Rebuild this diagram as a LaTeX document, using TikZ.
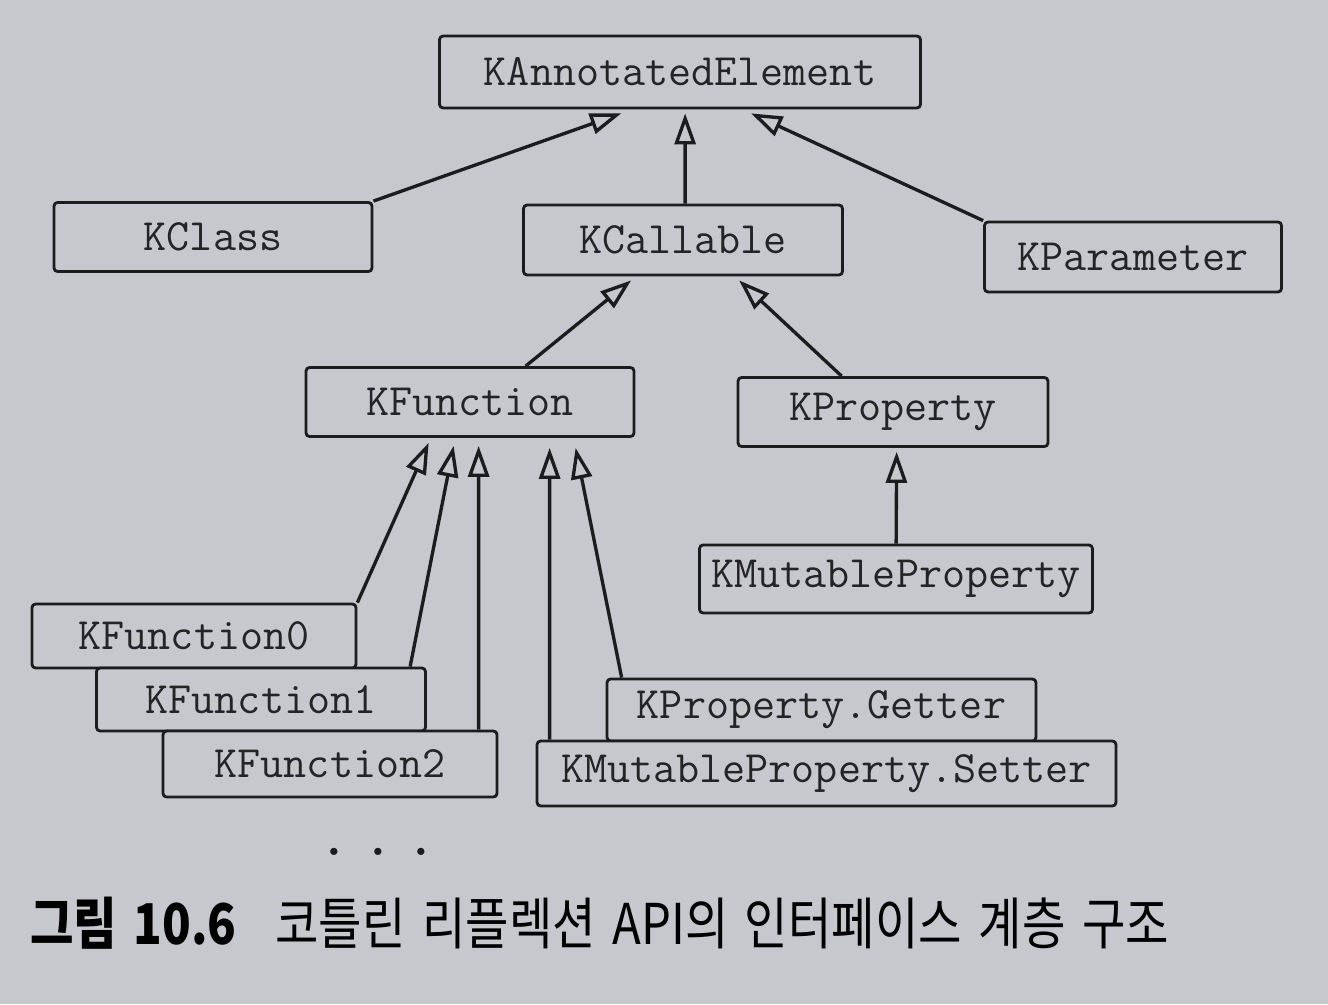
\documentclass[tikz,border=0pt]{standalone}
\usepackage{fontspec}
\usepackage{graphicx}
\newfontfamily\krfont{Noto Sans CJK KR}
\usetikzlibrary{arrows.meta,calc}
\definecolor{bg}{RGB}{199,200,205}
\definecolor{ink}{RGB}{28,28,30}
\definecolor{txt}{RGB}{36,36,38}
\tikzset{
  cls/.style={draw=ink, line width=1.6pt, rounded corners=2pt, fill=bg, text=txt,
    font=\ttfamily\fontsize{25.5}{30}\selectfont, inner sep=0pt},
  inh/.style={draw=ink, line width=1.9pt,
    -{Triangle[open, length=0.62cm, width=0.42cm, fill=bg]}},
}
\begin{document}
\begin{tikzpicture}[x=0.02cm, y=-0.02cm]
\fill[bg] (0,0) rectangle (1328,1004);
\useasboundingbox (0,0) rectangle (1328,1004);

\node[cls, minimum width=9.62cm, minimum height=1.44cm] (kae) at (680,72) {KAnnotatedElement};
\node[cls, minimum width=6.36cm, minimum height=1.38cm] (kclass) at (213,237) {KClass};
\node[cls, minimum width=6.38cm, minimum height=1.40cm] (kcall) at (683,240) {KCallable};
\node[cls, minimum width=5.94cm, minimum height=1.40cm] (kparam) at (1133,257) {KParameter};
\node[cls, minimum width=6.56cm, minimum height=1.38cm] (kfun) at (470,402) {KFunction};
\node[cls, minimum width=6.20cm, minimum height=1.38cm] (kprop) at (893,412) {KProperty};
\node[cls, minimum width=7.86cm, minimum height=1.36cm] (kmp) at (896,579) {KMutableProperty};
\node[cls, minimum width=6.48cm, minimum height=1.28cm] (kf0) at (194,636) {KFunction0};
\node[cls, minimum width=6.58cm, minimum height=1.26cm] (kf1) at (261,699.5) {KFunction1};
\node[cls, minimum width=6.68cm, minimum height=1.32cm] (kf2) at (330,764) {KFunction2};
\node[cls, minimum width=8.58cm, minimum height=1.24cm] (kget) at (821.5,710) {KProperty.Getter};
\node[cls, minimum width=11.58cm, minimum height=1.30cm] (kset) at (826.5,773.5) {KMutableProperty.Setter};

\node[text=ink, font=\ttfamily\bfseries\fontsize{30}{34}\selectfont, inner sep=0pt, anchor=base] (dots) at (378,855) {.\hspace{0.3em}.\hspace{0.3em}.};

\draw[inh] (kclass.north east) -- ($(kae.south west)+(183,4)$);
\draw[inh] ($(kcall.north west)+(163,0)$) -- ($(kae.south west)+(247,4)$);
\draw[inh] (kparam.north west) -- ($(kae.south west)+(313,4)$);
\draw[inh] ($(kfun.north west)+(221,0)$) -- ($(kcall.south west)+(109,4)$);
\draw[inh] ($(kprop.north west)+(105,0)$) -- ($(kcall.south west)+(217,4)$);
\draw[inh] ($(kmp.north west)+(198,0)$) -- ($(kprop.south west)+(160,4)$);
\draw[inh] (kf0.north east) -- ($(kfun.south west)+(124,5)$);
\draw[inh] ($(kf1.north west)+(315,0)$) -- ($(kfun.south west)+(149,8)$);
\draw[inh] ($(kf2.north west)+(317,0)$) -- ($(kfun.south west)+(174,8)$);
\draw[inh] ($(kset.north west)+(14,0)$) -- ($(kfun.south west)+(245,10)$);
\draw[inh] ($(kget.north west)+(16,0)$) -- ($(kfun.south west)+(271,10)$);

\node[anchor=base west, inner sep=0pt, text=black, font=\krfont\bfseries\fontsize{32}{36}\selectfont] (capnum) at (30,944) {\scalebox{0.84}[1]{그림\hspace{0.35em}10.6}};
\node[anchor=base west, inner sep=0pt, text=black, font=\krfont\fontsize{32}{36}\selectfont] (captxt) at (275,944) {\scalebox{0.84}[1]{코틀린\hspace{0.35em}리플렉션\hspace{0.35em}API의\hspace{0.35em}인터페이스\hspace{0.35em}계층\hspace{0.35em}구조}};
\end{tikzpicture}
\end{document}
